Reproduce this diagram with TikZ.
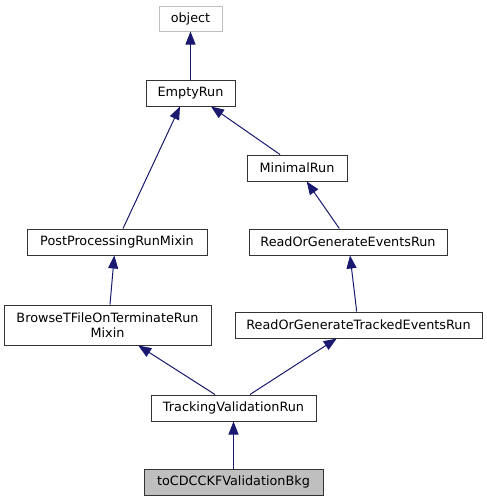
\documentclass[tikz,border=0pt]{standalone}
\usepackage{fontspec}
\setmainfont{DejaVu Sans}
\usetikzlibrary{arrows.meta}
\definecolor{edgeblue}{HTML}{191970}
\definecolor{boxgray}{HTML}{BFBFBF}
\begin{document}
\begin{tikzpicture}[x=1pt,y=-1pt,
  cls/.style={draw=black!80, line width=1pt, fill=white, inner sep=0pt, minimum height=26pt,
    font=\fontsize{12.8}{14.3}\selectfont, align=center},
  inh/.style={draw=edgeblue, line width=1pt, -{Triangle[length=13pt,width=10pt]}, edgeblue}]
\useasboundingbox (0,0) rectangle (487,501);
\fill[white] (0,0) rectangle (487,501);
\node[cls, draw=boxgray, minimum width=63pt, minimum height=25pt] (obj) at (190.5,18.5) {object};
\node[cls, minimum width=89pt] (er) at (190.5,93) {EmptyRun};
\node[cls, minimum width=100pt] (mr) at (297,168) {MinimalRun};
\node[cls, minimum width=180pt] (pp) at (117,242) {PostProcessingRunMixin};
\node[cls, minimum width=198pt] (rge) at (348,242) {ReadOrGenerateEventsRun};
\node[cls, minimum width=207pt, minimum height=40pt] (bt) at (107.5,325) {BrowseTFileOnTerminateRun\\Mixin};
\node[cls, minimum width=247pt] (rgt) at (358.5,325) {ReadOrGenerateTrackedEventsRun};
\node[cls, minimum width=165pt] (tv) at (233.5,408) {TrackingValidationRun};
\node[cls, fill=boxgray, minimum width=179pt] (cdc) at (233.5,482) {toCDCCKFValidationBkg};
\draw[inh] (er.north) -- (obj.south);
\draw[inh] ([xshift=6pt]pp.north) -- ([xshift=-10.5pt]er.south);
\draw[inh] ([xshift=-17pt]mr.north) -- ([xshift=20.5pt]er.south);
\draw[inh] ([xshift=-8.7pt]rge.north) -- ([xshift=9.7pt]mr.south);
\draw[inh] ([xshift=2.5pt]bt.north) -- ([xshift=-2.7pt]pp.south);
\draw[inh] ([xshift=-1.8pt]rgt.north) -- ([xshift=2pt]rge.south);
\draw[inh] ([xshift=-18.5pt]tv.north) -- ([xshift=30.8pt]bt.south);
\draw[inh] ([xshift=16.5pt]tv.north) -- ([xshift=-21.8pt]rgt.south);
\draw[inh] (cdc.north) -- (tv.south);
\end{tikzpicture}
\end{document}
